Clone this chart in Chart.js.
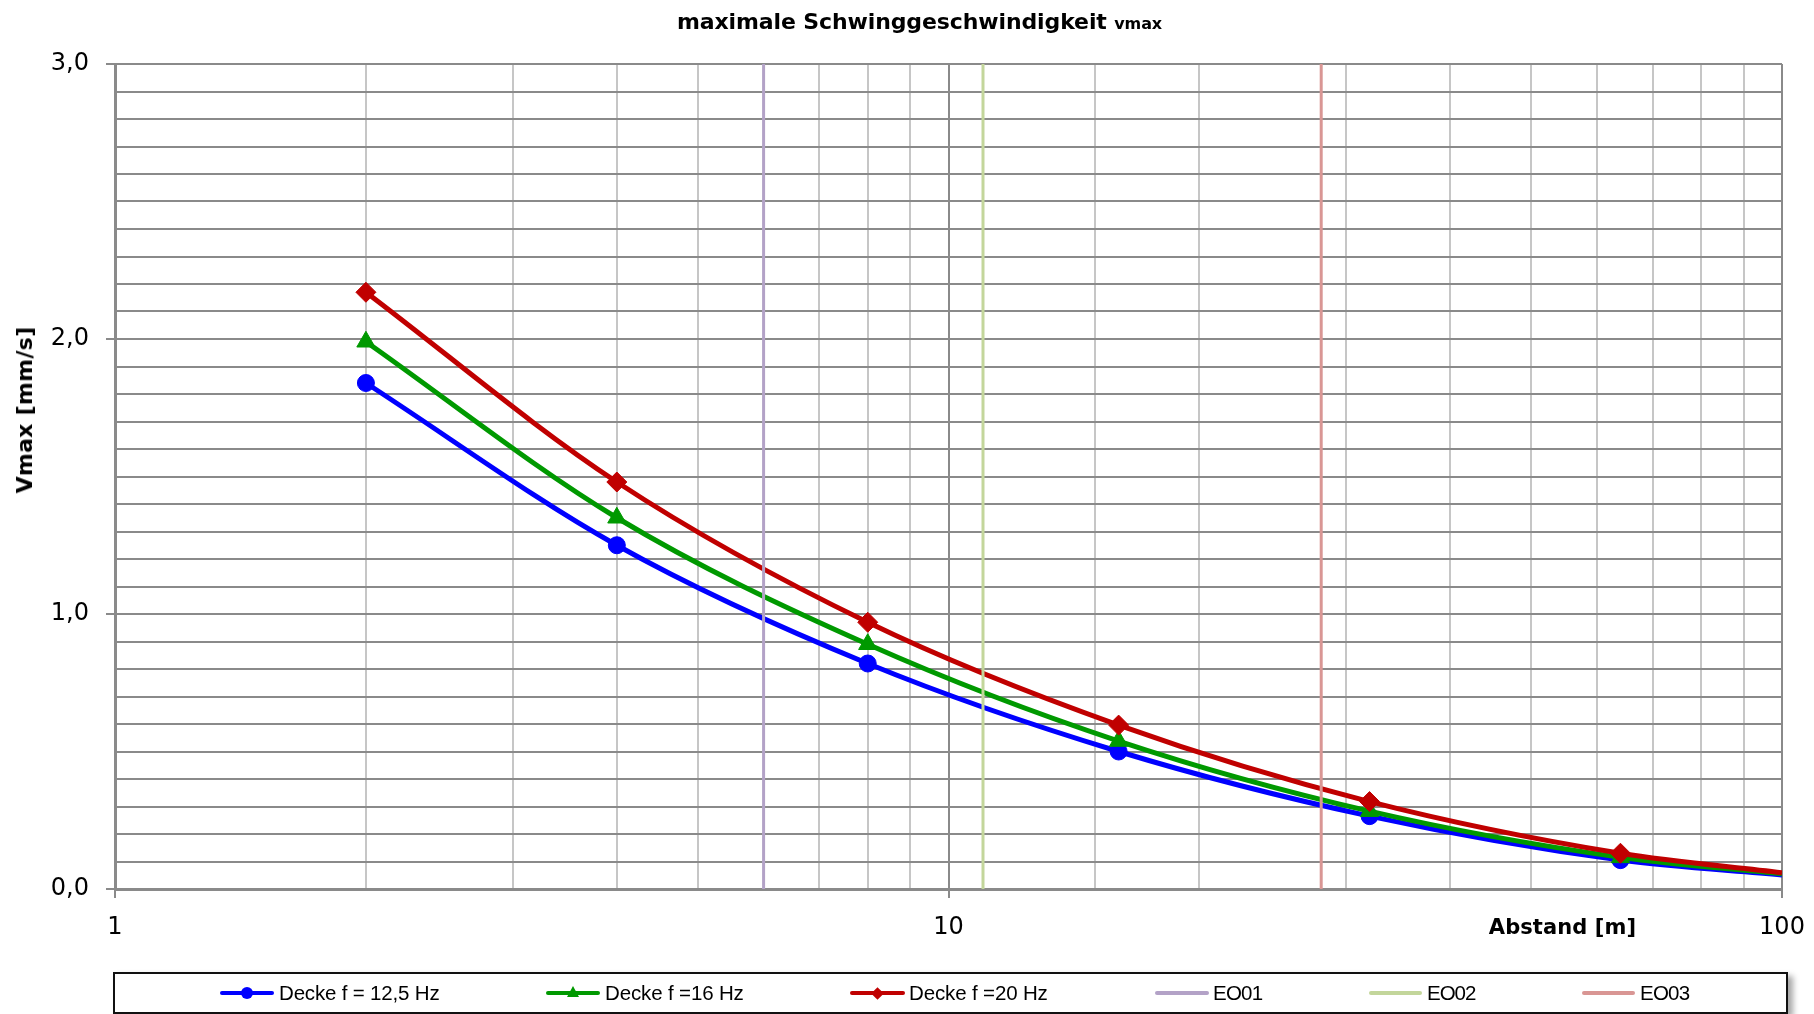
<!DOCTYPE html>
<html>
<head>
<meta charset="utf-8">
<script src="https://cdn.jsdelivr.net/npm/chart.js@4.4.1/dist/chart.umd.min.js"></script>
<style>
html,body{margin:0;padding:0;background:#fff;}
#wrap{position:relative;width:1814px;height:1014px;overflow:hidden;background:#fff;}
#c{position:absolute;left:0;top:0;}
.t{position:absolute;white-space:nowrap;color:#000;line-height:1;transform:translate(-50%,-50%);}
#title{left:919.5px;top:21.5px;font-family:"DejaVu Sans";font-weight:bold;font-size:22px;}
#title .sub{font-size:16px;}
#ytitle{left:25px;top:410px;font-family:"DejaVu Sans";font-weight:bold;font-size:22px;transform:translate(-50%,-50%) rotate(-90deg);}
#xtitle{left:1562.5px;top:927px;font-family:"DejaVu Sans";font-weight:bold;font-size:21px;}
#legend{position:absolute;left:113px;top:972px;width:1675px;height:42px;box-sizing:border-box;border:2px solid #111;background:#fff;box-shadow:5px 4px 6px rgba(0,0,0,0.35);}
.ln{position:absolute;top:50%;height:4px;margin-top:-2px;border-radius:2px;}
.mk{position:absolute;top:50%;}
.lt{position:absolute;top:50%;transform:translateY(-50%);font-family:"Liberation Sans";font-size:20.5px;line-height:1;white-space:nowrap;color:#000;}
</style>
</head>
<body>
<div id="wrap">
  <canvas id="c" width="1814" height="1014"></canvas>
  <div id="title" class="t">maximale Schwinggeschwindigkeit <span class="sub">vmax</span></div>
  <div id="ytitle" class="t">Vmax [mm/s]</div>
  <div id="xtitle" class="t">Abstand [m]</div>
  <div id="legend"></div>
</div>
<script>
// ---- data ----
const distances = [2, 4, 8, 16, 32, 64, 100];
const v12_5 = [1.84, 1.25, 0.82, 0.50, 0.265, 0.105, 0.051];
const v16   = [1.99, 1.35, 0.89, 0.538, 0.283, 0.115, 0.055];
const v20   = [2.17, 1.48, 0.97, 0.596, 0.318, 0.130, 0.059];
const seriesNames = ['Decke f = 12,5 Hz', 'Decke f =16 Hz', 'Decke f =20 Hz'];
const eoNames = ['EO01', 'EO02', 'EO03'];
const eoDistances = [6, 11, 28];
const yMin = 0, yMax = 3, yStep = 0.1;
const xMin = 1, xMax = 100;
const xTickLabels = [1, 10, 100];
const yTickLabels = [0, 1, 2, 3];

// ---- styles ----
const seriesColors = ['#0000FF', '#009900', '#C00000'];
const seriesStyles = ['circle', 'triangle', 'rectRot'];
const seriesRadius = [8.5, 10.5, 10];
const eoColors = ['#B3A2C7', '#C3D69B', '#D99694'];
const gridDark = '#8a8a8a', gridLight = '#c6c6c6';

const seriesValues = [v12_5, v16, v20];
const datasets = [];
seriesValues.forEach((vals, s) => {
  datasets.push({
    label: seriesNames[s],
    data: distances.map((d, i) => ({x: d, y: vals[i]})),
    borderColor: seriesColors[s],
    backgroundColor: seriesColors[s],
    pointBackgroundColor: seriesColors[s],
    pointBorderColor: seriesColors[s],
    pointBorderWidth: 1,
    pointStyle: seriesStyles[s],
    pointRadius: distances.map(d => d >= xMax ? 0 : seriesRadius[s]),
    borderWidth: 5,
    cubicInterpolationMode: 'monotone',
    order: 10 - s
  });
});
eoDistances.forEach((d, k) => {
  datasets.push({
    label: eoNames[k],
    data: [{x: d, y: yMin}, {x: d, y: yMax}],
    borderColor: eoColors[k],
    backgroundColor: eoColors[k],
    borderWidth: 3,
    pointRadius: 0,
    order: 3 - k
  });
});

const isOn = (v, list) => list.some(t => Math.abs(v - t) < 1e-9);

new Chart(document.getElementById('c'), {
  type: 'line',
  data: {datasets},
  options: {
    responsive: false,
    animation: false,
    devicePixelRatio: 1,
    layout: {padding: {top: 64, right: 32, bottom: 0, left: 0}},
    plugins: {legend: {display: false}, tooltip: {enabled: false}, title: {display: false}},
    scales: {
      x: {
        type: 'logarithmic', min: xMin, max: xMax,
        afterFit(s) { s.height = 125; s.paddingRight = 0; s.paddingLeft = 0; },
        ticks: {
          autoSkip: false, maxRotation: 0, minRotation: 0, padding: 15,
          color: '#000', font: {family: 'DejaVu Sans', size: 24},
          callback(v) { return isOn(v, xTickLabels) ? String(v) : ''; }
        },
        grid: {
          lineWidth: 2,
          color: c => (c.tick && isOn(c.tick.value, xTickLabels)) ? gridDark : gridLight,
          tickLength: 9, tickWidth: 2,
          tickColor: c => (c.tick && isOn(c.tick.value, xTickLabels)) ? gridDark : 'rgba(0,0,0,0)'
        },
        border: {display: true, color: gridDark, width: 3}
      },
      y: {
        type: 'linear', min: yMin, max: yMax,
        afterFit(s) { s.width = 115; s.paddingTop = 0; s.paddingBottom = 0; },
        ticks: {
          stepSize: yStep, autoSkip: false, padding: 17,
          color: '#000', font: {family: 'DejaVu Sans', size: 24},
          callback(v) { return isOn(v, yTickLabels) ? v.toFixed(1).replace('.', ',') : ''; }
        },
        grid: {
          lineWidth: 2, color: gridDark,
          tickLength: 9, tickWidth: 2,
          tickColor: c => (c.tick && isOn(c.tick.value, yTickLabels)) ? gridDark : 'rgba(0,0,0,0)'
        },
        border: {display: true, color: gridDark, width: 3}
      }
    }
  }
});

// ---- HTML legend ----
const legendLayout = [
  {line: [220, 274], text: 279, w: 161},
  {line: [546, 600], text: 605, w: 139},
  {line: [850, 905], text: 909, w: 139},
  {line: [1155, 1209], text: 1213, w: 49},
  {line: [1369, 1422], text: 1427, w: 48},
  {line: [1582, 1635], text: 1640, w: 49}
];
const legendEl = document.getElementById('legend');
const boxLeft = 113;
const legendNames = seriesNames.concat(eoNames);
const legendColors = seriesColors.concat(eoColors);
legendNames.forEach((name, i) => {
  const L = legendLayout[i];
  const ln = document.createElement('div');
  ln.className = 'ln';
  ln.style.left = (L.line[0] - boxLeft - 2) + 'px';
  ln.style.width = (L.line[1] - L.line[0]) + 'px';
  ln.style.background = legendColors[i];
  legendEl.appendChild(ln);
  if (i < 3) {
    const mk = document.createElement('div');
    mk.className = 'mk';
    const cx = (L.line[0] + L.line[1]) / 2 - boxLeft - 2;
    const col = legendColors[i];
    if (i === 0) {
      Object.assign(mk.style, {left: (cx - 6) + 'px', marginTop: '-6px', width: '12px', height: '12px', borderRadius: '50%', background: col});
    } else if (i === 1) {
      Object.assign(mk.style, {left: (cx - 6) + 'px', marginTop: '-7px', width: '0', height: '0', borderLeft: '6px solid transparent', borderRight: '6px solid transparent', borderBottom: '11px solid ' + col});
    } else {
      Object.assign(mk.style, {left: (cx - 4.5) + 'px', marginTop: '-4.5px', width: '9px', height: '9px', background: col, transform: 'rotate(45deg)'});
    }
    legendEl.appendChild(mk);
  }
  const lt = document.createElement('div');
  lt.className = 'lt';
  lt.style.left = (L.text - boxLeft - 2) + 'px';
  lt.textContent = name;
  lt.dataset.w = L.w;
  legendEl.appendChild(lt);
});

function fit(el, target) {
  el.style.letterSpacing = '0px';
  const w = el.offsetWidth;
  const n = el.textContent.length;
  let ls = (target - w) / n;
  ls = Math.max(-1.5, Math.min(1.5, ls));
  el.style.letterSpacing = ls + 'px';
}
function fitAll() {
  fit(document.getElementById('title'), 485);
  fit(document.getElementById('ytitle'), 167);
  fit(document.getElementById('xtitle'), 147);
  document.querySelectorAll('.lt').forEach(el => fit(el, +el.dataset.w));
}
fitAll();
if (document.fonts && document.fonts.ready) document.fonts.ready.then(fitAll);
</script>
</body>
</html>
